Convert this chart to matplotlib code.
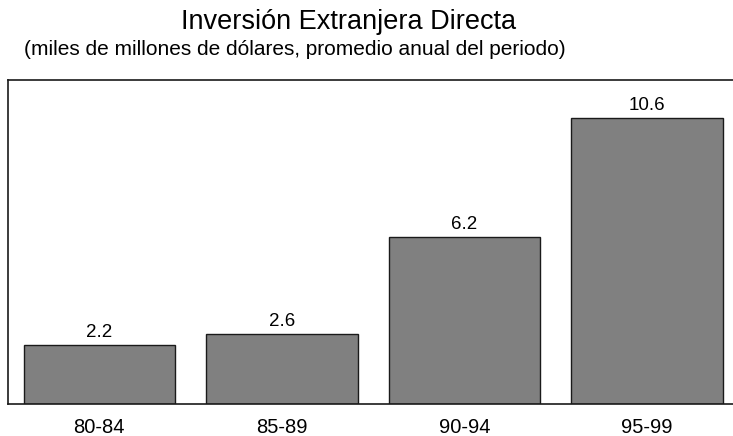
import matplotlib
matplotlib.use("Agg")
import matplotlib.pyplot as plt

periodos = ["80-84", "85-89", "90-94", "95-99"]
ied = [2.2, 2.6, 6.2, 10.6]

plt.rcParams["font.family"] = ["Liberation Sans", "DejaVu Sans"]

fig = plt.figure(figsize=(7.33, 4.36), dpi=100)
ax = fig.add_axes([8 / 733, 32 / 436, 730.5 / 733, 324 / 436])

x = range(len(periodos))
bars = ax.bar(x, ied, width=0.83, color="#808080", edgecolor="#1a1a1a", linewidth=1.0)
for b, v in zip(bars, ied):
    ax.text(b.get_x() + b.get_width() / 2, v + 0.15, f"{v:.1f}",
            ha="center", va="bottom", fontsize=13.5)

ax.set_xlim(-0.5, 3.5)
ax.set_ylim(0, 12)
ax.set_xticks(list(x))
ax.set_xticklabels(periodos, fontsize=14.5)
ax.tick_params(axis="x", length=0, pad=10)
ax.set_yticks([])
for s in ax.spines.values():
    s.set_linewidth(1.2)
    s.set_color("#1a1a1a")

fig.text(349 / 733, 1 - 29 / 436, "Inversión Extranjera Directa",
         ha="center", va="baseline", fontsize=19.5)
fig.text(295 / 733, 1 - 55 / 436, "(miles de millones de dólares, promedio anual del periodo)",
         ha="center", va="baseline", fontsize=15)

fig.savefig("out.png", dpi=100)
